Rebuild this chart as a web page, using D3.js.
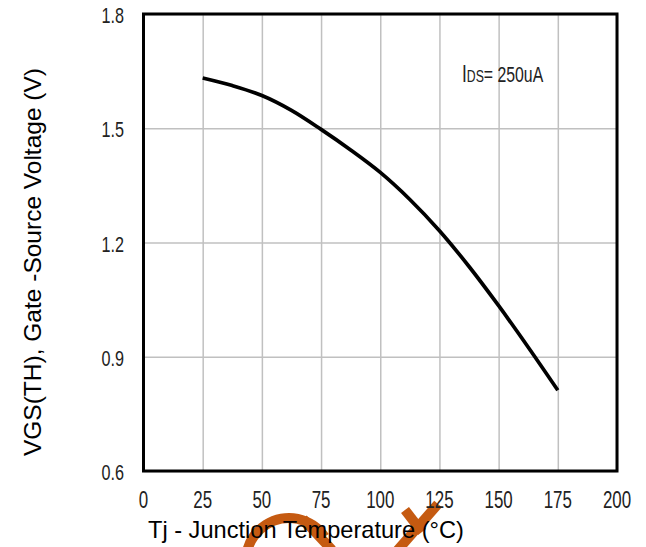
<!DOCTYPE html>
<html><head><meta charset="utf-8">
<script src="https://cdn.jsdelivr.net/npm/d3@7"></script>
<style>body{margin:0;background:#fff}</style>
</head><body><svg id="c" width="646" height="547"></svg>
<script>
const temps = [25, 37.5, 50, 62.5, 75, 87.5, 100, 112.5, 125, 137.5, 150, 162.5, 175];
const vth = [1.632, 1.612, 1.586, 1.547, 1.497, 1.443, 1.384, 1.313, 1.231, 1.137, 1.034, 0.925, 0.812];
const xTicks = [0, 25, 50, 75, 100, 125, 150, 175, 200];
const yTicks = [0.6, 0.9, 1.2, 1.5, 1.8];
const xTitle = "Tj - Junction Temperature (°C)";
const yTitle = "VGS(TH), Gate -Source Voltage (V)";
const noteMain = "I", noteSub = "DS", noteRest = "= 250uA";

const svg = d3.select("#c");
const L = 143.5, R = 617, T = 14, B = 471;
const x = d3.scaleLinear().domain([0, 200]).range([L, R]);
const y = d3.scaleLinear().domain([0.6, 1.8]).range([B, T]);
const sans = "'Liberation Sans',Arial,sans-serif";
const SX = 0.72;

// watermark fragments (drawn under text)
const wm = svg.append("g").attr("fill", "none").attr("stroke", "#C55A11").attr("stroke-width", 10);
const arc = d3.arc().innerRadius(38).outerRadius(48).startAngle(-1.34 * Math.PI / 2).endAngle(0.62 * Math.PI / 2);
svg.append("path").attr("d", arc()).attr("transform", "translate(289,561)").attr("fill", "#C55A11");
wm.append("line").attr("x1", 303).attr("y1", 519).attr("x2", 332).attr("y2", 550);
wm.append("line").attr("x1", 396).attr("y1", 552).attr("x2", 438).attr("y2", 504);
wm.append("line").attr("x1", 405).attr("y1", 510).attr("x2", 422).attr("y2", 532);

// grid
const g = svg.append("g");
g.append("g").attr("transform", `translate(0,${B})`)
  .call(d3.axisBottom(x).tickValues(xTicks).tickSize(-(B - T)).tickFormat(""))
  .call(a => a.select(".domain").remove())
  .call(a => a.selectAll("line").attr("stroke", "#c0c0c0").attr("stroke-width", 1.5));
g.append("g").attr("transform", `translate(${L},0)`)
  .call(d3.axisLeft(y).tickValues(yTicks).tickSize(-(R - L)).tickFormat(""))
  .call(a => a.select(".domain").remove())
  .call(a => a.selectAll("line").attr("stroke", "#c0c0c0").attr("stroke-width", 1.5));

// curve
const pts = temps.map((t, i) => [t, vth[i]]);
svg.append("path").datum(pts)
  .attr("d", d3.line().x(d => x(d[0])).y(d => y(d[1])).curve(d3.curveCatmullRom))
  .attr("fill", "none").attr("stroke", "#000").attr("stroke-width", 3.7).attr("stroke-linecap", "butt");

// frame
svg.append("rect").attr("x", L).attr("y", T).attr("width", R - L).attr("height", B - T)
  .attr("fill", "none").attr("stroke", "#000").attr("stroke-width", 3);

// tick labels (condensed)
svg.append("g").selectAll("text").data(xTicks).join("text")
  .attr("transform", d => `translate(${x(d)},508) scale(${SX},1)`).attr("text-anchor", "middle")
  .attr("font-family", sans).attr("font-size", 23.5).attr("fill", "#222")
  .text(d => d);
svg.append("g").selectAll("text").data(yTicks).join("text")
  .attr("transform", d => `translate(124,${y(d) + 9}) scale(${SX},1)`).attr("text-anchor", "end")
  .attr("font-family", sans).attr("font-size", 22.5).attr("fill", "#222")
  .text(d => d3.format(".1f")(d));

// annotation
const nt = svg.append("text").attr("transform", `translate(462,82) scale(${SX},1)`)
  .attr("font-family", sans).attr("fill", "#222");
nt.append("tspan").attr("font-size", 24).text(noteMain);
nt.append("tspan").attr("font-size", 17).text(noteSub);
nt.append("tspan").attr("font-size", 22).text(noteRest);

// titles
svg.append("text").attr("x", 148).attr("y", 538).attr("font-family", sans).attr("font-size", 23.6)
  .attr("fill", "#000").text(xTitle);
svg.append("text").attr("transform", "translate(41,262) rotate(-90)").attr("text-anchor", "middle")
  .attr("font-family", sans).attr("font-size", 24.5).attr("fill", "#000").text(yTitle);
</script></body></html>
